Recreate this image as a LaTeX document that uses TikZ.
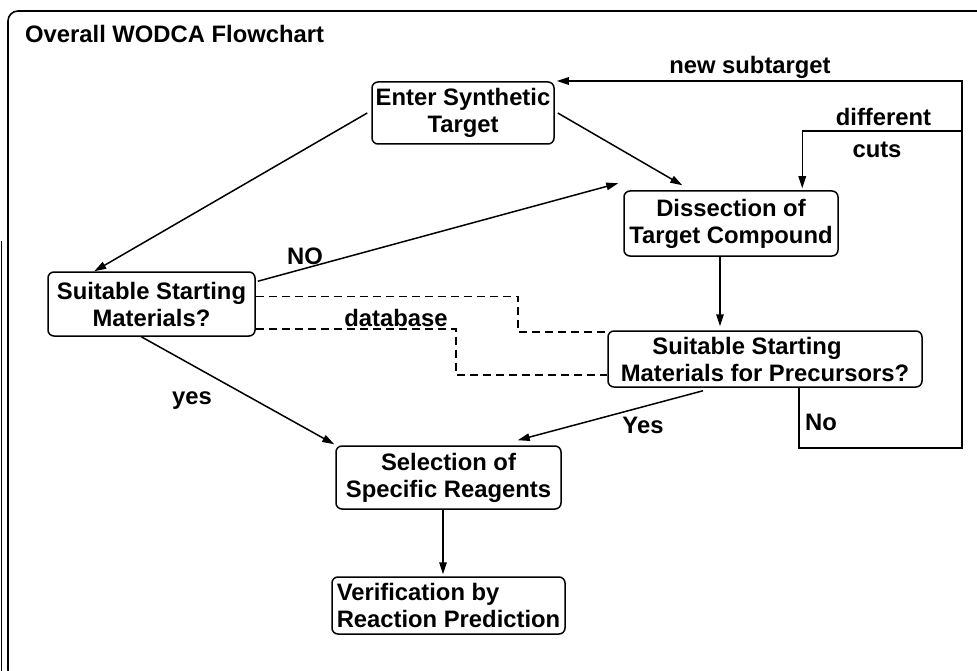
\documentclass[tikz,border=0pt]{standalone}
\usepackage{fontspec}
\newfontfamily\lsans{Liberation Sans}
\usetikzlibrary{arrows.meta,calc}
\begin{document}
\begin{tikzpicture}[x=1pt,y=-1pt,
  every node/.style={font=\lsans\bfseries\fontsize{23.8}{27}\selectfont, inner sep=0pt},
  box/.style={draw, line width=1.5pt, rounded corners=6pt, align=center},
  arr/.style={line width=1.5pt, -{Triangle[length=12pt,width=7.5pt]}},
  dline/.style={line width=1.5pt, dash pattern=on 8pt off 5pt}]
\useasboundingbox (0,0) rectangle (977,671);
\begin{scope}
\clip (0,0) rectangle (977,671);
\draw[line width=1.6pt, rounded corners=10pt] (8,11) rectangle (995,680);
\draw[line width=1.6pt] (1.5,241) -- (1.5,680);
\end{scope}
\node[anchor=base west] (title) at (25,43) {Overall WODCA Flowchart};

\node[box, minimum width=182pt, minimum height=62pt] (enter) at (463,113) {Enter Synthetic\\Target};
\node[box, minimum width=214pt, minimum height=65pt] (diss) at (731,223.5) {Dissection of\\Target Compound};
\node[box, minimum width=207pt, minimum height=64pt] (ssm) at (151.5,304) {Suitable Starting\\Materials?};
\node[box, minimum width=314pt, minimum height=56pt] (prec) at (765,359) {Suitable Starting\hspace*{36pt}\\Materials for Precursors?};
\node[box, minimum width=225pt, minimum height=63pt] (sel) at (448.5,477.5) {Selection of\\Specific Reagents};
\node[box, minimum width=233pt, minimum height=57pt, align=left] (ver) at (448.5,605.5) {Verification by\\Reaction Prediction};

% arrows
\draw[arr] ([xshift=-4pt]enter.west) -- ([xshift=47pt]ssm.north west);
\draw[arr] ([xshift=3pt]enter.east) -- ([shift={(59pt,5pt)}]diss.north west);
\draw[arr] ([shift={(2pt,-10pt)}]ssm.north east) -- ([shift={(-5pt,7pt)}]diss.north west);
\node (no) at (305,256) {NO};
\coordinate (dtop) at ($(diss.south)+(-11,0)$);
\draw[arr, shorten >=4pt] (dtop) -- (dtop |- prec.north);
\draw[arr] ([shift={(-62pt,-3pt)}]prec.south) -- ([shift={(-44pt,5pt)}]sel.north east);
\node (yes2) at (643,425) {Yes};
\draw[arr] ([xshift=94pt]ssm.south west) -- ([shift={(-1pt,1pt)}]sel.north west);
\node (yes1) at (192,401) {yes};
\coordinate (stop) at ($(sel.south)+(-5.5,0)$);
\draw[arr, shorten >=2pt] (stop) -- (stop |- ver.north);

% loop No / new subtarget
\coordinate (loopbr) at (962,448);
\coordinate (looptr) at (962,81);
\draw[arr, line join=miter] ([xshift=34pt]prec.south) |- (loopbr) -- (looptr) -- ($(enter.north east |- looptr)+(2,0)$);
\node[anchor=west] (nolbl) at (805,422) {No};
\node (newsub) at (750,67) {new subtarget};

% different cuts
\coordinate (dc) at (962,131);
\draw[arr, line join=miter] (dc) -| ($(diss.north west)+(179,-2)$);
\node (diff) at (883.5,117) {different};
\node (cuts) at (877,150) {cuts};

% dashed database lines
\coordinate (d1) at (518,332);
\draw[dline] ([yshift=-25pt]ssm.north east) -| (d1) -- (d1 -| prec.west);
\coordinate (d2) at (456,375);
\draw[dline] ([yshift=8pt]ssm.south east) -| (d2) -- (d2 -| prec.west);
\node (db) at (396,318) {database};
\end{tikzpicture}
\end{document}
